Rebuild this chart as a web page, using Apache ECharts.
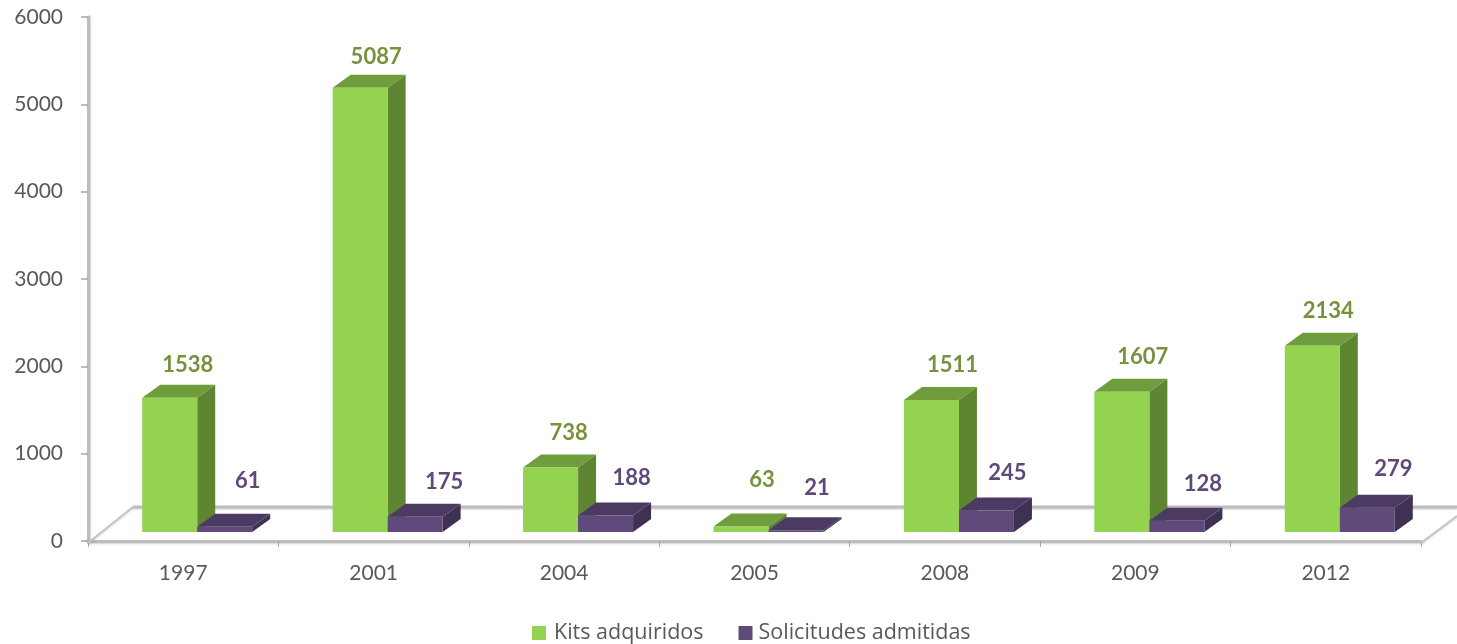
<!DOCTYPE html>
<html>
<head>
<meta charset="utf-8">
<style>html,body{margin:0;padding:0;background:#fff}#c{width:1457px;height:644px}</style>
<script src="https://cdn.jsdelivr.net/npm/echarts@6/dist/echarts.min.js"></script>
</head>
<body>
<div id="c"></div>
<script>
const years = ['1997','2001','2004','2005','2008','2009','2012'];
const kits = [1538,5087,738,63,1511,1607,2134];
const solicitudes = [61,175,188,21,245,128,279];
const yTicks = [0,1000,2000,3000,4000,5000,6000];

// Layout of the pseudo-3D look (pixels)
const FONT = 'Lato, Carlito, sans-serif';
const FLOOR_LIFT = 9, DEPTH_X = 18, DEPTH_Y = 13, BAR_W = 55;
// hand-placed label shifts from each bar's front-top centre, as in the original
const kitsLabelShift = [[18,-33],[16,-31],[18,-35],[21,-47],[21,-35],[21,-35],[16,-35]];
const solLabelShift = [[23,-46],[29,-35],[26,-38],[21,-42],[21,-38],[26,-37],[26,-39]];

const chart = echarts.init(document.getElementById('c'), null, {renderer:'canvas'});

function boxRenderer(startOffset, colors, shifts) {
  return function (params, api) {
    const idx = api.value(0), val = api.value(1);
    const base = api.coord([idx, 0]), top = api.coord([idx, val]);
    const x0 = base[0] + startOffset, x1 = x0 + BAR_W;
    const yb = base[1] - FLOOR_LIFT, yt = top[1] - FLOOR_LIFT;
    const s = shifts[params.dataIndex];
    return {type:'group', children:[
      {type:'polygon', shape:{points:[[x1,yb],[x1+DEPTH_X,yb-DEPTH_Y],[x1+DEPTH_X,yt-DEPTH_Y],[x1,yt]]}, style:{fill:colors.side}},
      {type:'polygon', shape:{points:[[x0,yt],[x1,yt],[x1+DEPTH_X,yt-DEPTH_Y],[x0+DEPTH_X,yt-DEPTH_Y]]}, style:{fill:colors.top}},
      {type:'rect', shape:{x:x0,y:yt,width:BAR_W,height:yb-yt}, style:{fill:colors.front}},
      {type:'text', x:x0+BAR_W/2+s[0], y:yt+s[1], style:{text:String(val), fill:colors.label, font:'bold 22px '+FONT, textAlign:'center', textVerticalAlign:'middle'}}
    ]};
  };
}

function floorRenderer(params, api) {
  const band = api.size([1,0])[0];
  const first = api.coord([0,0]), last = api.coord([years.length-1,0]);
  const lx = first[0]-band/2, rx = last[0]+band/2;
  const y = first[1] + 2, backY = y - 36;
  const st = {stroke:'#bdbdbd', lineWidth:3, fill:null, shadowColor:'rgba(0,0,0,0.18)', shadowBlur:2, shadowOffsetY:1};
  const thin = {stroke:'#c4c4c4', lineWidth:2, fill:null, shadowColor:'rgba(0,0,0,0.15)', shadowBlur:2, shadowOffsetY:1};
  return {type:'group', children:[
    {type:'line', shape:{x1:lx,y1:y,x2:lx+45,y2:backY}, style:thin},
    {type:'line', shape:{x1:lx+45,y1:backY,x2:rx+36,y2:backY}, style:st},
    {type:'line', shape:{x1:rx,y1:y,x2:rx+36,y2:y-27}, style:thin}
  ]};
}

const green = {front:'#93d350', side:'#5d8532', top:'#6f9c3c', label:'#76923c'};
const purple = {front:'#604a7b', side:'#3f3151', top:'#4b3a61', label:'#5f497a'};

chart.setOption({
  animation:false,
  backgroundColor:'#fff',
  grid:{left:88,right:36,top:17,bottom:103},
  legend:{
    left:527, top:617, itemWidth:14, itemHeight:14, itemGap:35, icon:'rect',
    data:[
      {name:'Kits adquiridos',textStyle:{padding:[0,0,0,3]}},
      {name:'Solicitudes admitidas',textStyle:{padding:[0,0,0,1]}}
    ],
    textStyle:{fontFamily:'"Open Sans", sans-serif',fontSize:21.5,color:'#595959'}
  },
  xAxis:{
    type:'category', data:years, offset:2,
    axisLine:{lineStyle:{color:'#bdbdbd',width:3,shadowColor:'rgba(0,0,0,0.18)',shadowBlur:2,shadowOffsetY:1}},
    axisTick:{show:true,length:6,lineStyle:{color:'#a6a6a6',width:1}},
    axisLabel:{fontFamily:FONT,fontSize:21,color:'#595959',margin:20},
    splitLine:{show:false}
  },
  yAxis:{
    type:'value', min:yTicks[0], max:yTicks[yTicks.length-1], interval:yTicks[1]-yTicks[0],
    axisLine:{show:true,lineStyle:{color:'#bdbdbd',width:3,shadowColor:'rgba(0,0,0,0.18)',shadowBlur:2,shadowOffsetX:1}},
    axisTick:{show:true,length:7,lineStyle:{color:'#a6a6a6',width:1.5}},
    axisLabel:{fontFamily:FONT,fontSize:21,color:'#595959',margin:25,padding:[4,0,0,0],formatter:v=>String(v)},
    splitLine:{show:false}
  },
  series:[
    {name:'floor',type:'custom',renderItem:floorRenderer,data:[[0,0]],silent:true,z:1,clip:false,encode:{x:0,y:1}},
    {name:'Kits adquiridos',type:'custom',itemStyle:{color:green.front},z:3,clip:false,
      renderItem:boxRenderer(-41,green,kitsLabelShift),
      data:kits.map((v,i)=>[i,v]),encode:{x:0,y:1}},
    {name:'Solicitudes admitidas',type:'custom',itemStyle:{color:purple.front},z:4,clip:false,
      renderItem:boxRenderer(14,purple,solLabelShift),
      data:solicitudes.map((v,i)=>[i,v]),encode:{x:0,y:1}}
  ]
});
</script>
</body>
</html>
